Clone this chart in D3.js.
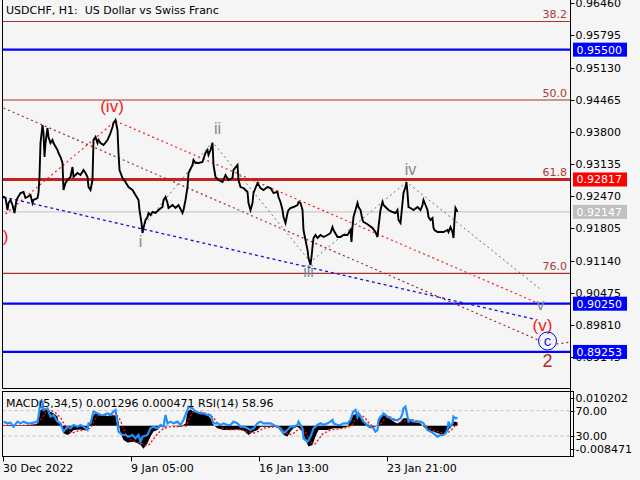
<!DOCTYPE html>
<html><head><meta charset="utf-8">
<script src="https://cdn.jsdelivr.net/npm/d3@7"></script>
<style>html,body{margin:0;padding:0;background:#f5f5f5;} svg{display:block;font-family:"DejaVu Sans",sans-serif;} text{white-space:pre;}</style>
</head><body><svg id="c" width="640" height="480"></svg>
<script>
// ---------- DATA ----------
const titleText = "USDCHF, H1:\u00a0\u00a0US Dollar vs Swiss Franc";
const indicatorText = "MACD(5,34,5) 0.001296 0.000471 RSI(14) 58.96";
const timeTickIdx = [0, 128, 256, 384];
const timeTickLabels = ["30 Dec 2022", "9 Jan 05:00", "16 Jan 13:00", "23 Jan 21:00"];
const priceTicks = ["0.96460","0.95795","0.95130","0.94465","0.93800","0.93135","0.92470","0.91805","0.91140","0.90475","0.89810","0.89145"];
const subTicksMacd = ["0.010202", "-0.008471"];
const subTicksRsi = [70, 30];

const barIdx = [0,1,3,5,6,8,10,12,14,15,18,21,23,25,28,30,31,35,36,37,38,40,41,42,43,45,46,48,50,51,55,56,58,60,61,63,65,68,70,71,75,78,81,83,85,86,88,90,91,93,95,96,98,101,105,108,110,111,113,115,116,117,120,123,126,130,133,136,137,139,140,141,143,145,146,148,150,153,156,160,161,163,165,166,170,173,176,180,181,183,185,186,190,191,193,196,200,203,205,206,208,210,211,213,216,220,223,226,230,231,235,236,238,241,245,246,248,250,251,255,258,261,265,268,271,275,276,278,280,281,283,285,286,288,291,295,296,298,300,301,303,305,306,308,309,310,311,313,315,316,318,321,325,328,330,331,335,338,341,345,348,349,350,351,353,355,356,358,360,361,363,366,370,373,375,376,378,380,381,383,386,390,393,395,396,398,400,401,403,404,405,406,408,411,415,418,420,421,423,425,426,428,430,431,432,435,438,441,445,446,448,450,451,452,453,455];
const closePx = [0.92434,0.92455,0.92434,0.92186,0.92331,0.92393,0.92290,0.92124,0.92393,0.92434,0.92538,0.92558,0.92434,0.92455,0.92496,0.92331,0.92393,0.92434,0.92538,0.92868,0.93571,0.93943,0.93777,0.93281,0.93571,0.93881,0.93695,0.93571,0.93633,0.93571,0.93426,0.93364,0.93281,0.93158,0.92600,0.92744,0.92806,0.92868,0.93075,0.92868,0.92951,0.92910,0.93013,0.92951,0.92868,0.92661,0.92600,0.92806,0.93633,0.93695,0.93571,0.93633,0.93571,0.93529,0.93633,0.93777,0.93901,0.93984,0.94046,0.93840,0.93364,0.93013,0.92848,0.92765,0.92661,0.92600,0.92496,0.92393,0.92186,0.91918,0.91711,0.91814,0.91980,0.92041,0.92124,0.92083,0.92145,0.92124,0.92186,0.92248,0.92393,0.92455,0.92331,0.92228,0.92290,0.92228,0.92290,0.92124,0.92186,0.92393,0.92661,0.92951,0.93116,0.93219,0.93158,0.93158,0.93178,0.93364,0.93426,0.93323,0.93426,0.93571,0.93116,0.92868,0.92806,0.92765,0.92910,0.92806,0.92848,0.93013,0.93116,0.92806,0.92661,0.92641,0.92558,0.92331,0.92186,0.92331,0.92538,0.92744,0.92641,0.92600,0.92661,0.92641,0.92538,0.92558,0.92455,0.92352,0.92186,0.92041,0.91918,0.92124,0.92186,0.92228,0.92248,0.92290,0.92352,0.92331,0.92186,0.91773,0.91566,0.91360,0.91194,0.91050,0.91215,0.91422,0.91607,0.91669,0.91607,0.91628,0.91669,0.91628,0.91669,0.91711,0.91835,0.91773,0.91628,0.91628,0.91669,0.91669,0.91773,0.91525,0.91835,0.92041,0.92186,0.92331,0.92248,0.92186,0.91980,0.91938,0.91918,0.91876,0.91814,0.91731,0.91628,0.91835,0.92186,0.92352,0.92290,0.92248,0.92186,0.92145,0.92124,0.92186,0.91980,0.91918,0.92331,0.92538,0.92661,0.92765,0.92538,0.92248,0.92228,0.92186,0.92248,0.92186,0.92290,0.92393,0.92290,0.92186,0.92041,0.91980,0.92021,0.91814,0.91773,0.91731,0.91731,0.91731,0.91773,0.91731,0.91835,0.91731,0.91607,0.91980,0.92228,0.92147];

const rsiIdx = [1,5,8,11,15,18,21,25,28,31,35,36,38,40,41,45,48,51,55,58,61,65,68,71,75,78,81,85,86,88,91,95,98,101,105,108,111,113,115,116,120,123,126,130,133,136,138,140,145,148,151,155,158,161,163,165,168,171,175,178,181,185,186,190,193,198,201,205,208,211,215,218,221,225,228,231,235,238,241,245,248,251,255,258,261,265,268,271,275,278,281,285,288,291,295,296,298,300,301,305,308,311,315,318,321,325,328,330,331,335,338,341,345,348,350,351,353,355,356,358,361,365,368,371,373,375,376,378,380,381,385,388,391,395,398,400,401,403,405,406,408,411,415,418,421,425,428,431,435,438,441,443,445,446,448,450,451,453,455];
const rsiVal = [52.7,50.0,51.1,44.8,52.7,50,52.7,50,50,51.1,52.7,60.6,84.3,84.3,71.1,73.7,60.6,63.2,52.7,50,36.9,44.8,42.1,47.4,44.8,47.4,44.8,39.5,50,50,68.5,65.8,63.2,63.2,65.8,63.2,68.5,71.1,50,36.9,31.6,31.6,28.9,31.6,26.3,31.6,21.0,28.9,31.6,42.1,44.8,42.1,47.4,44.8,63.2,50,52.7,50,52.7,47.4,55.3,71.1,76.4,73.7,68.5,65.8,65.8,63.2,63.2,50,50,47.4,50,47.4,47.4,52.7,50,44.8,44.8,42.1,39.5,42.1,50,52.7,50,50,50,47.4,44.8,42.1,34.2,39.5,44.8,44.8,47.4,52.7,47.4,42.1,26.3,21.0,28.9,42.1,47.4,50,47.4,50,52.7,55.3,50,47.4,47.4,50,50,55.3,65.8,68.5,71.1,60.6,65.8,60.6,52.7,47.4,44.8,42.1,36.9,39.5,55.3,60.6,63.2,65.8,60.6,57.9,55.3,55.3,57.9,65.8,73.7,76.4,60.6,52.7,55.3,52.7,52.7,52.7,50,39.5,36.9,34.2,28.9,31.6,31.6,34.2,39.5,52.7,44.8,50,60.6,57.9,58.96];

const macdIdx = [1,8,18,28,35,38,41,45,48,51,55,56,60,61,65,68,71,78,81,85,86,90,93,98,105,111,115,116,118,121,125,131,135,138,141,145,148,151,155,158,161,168,178,183,185,188,191,198,205,208,211,215,221,228,235,241,246,251,255,258,265,275,281,285,288,291,295,300,303,306,310,313,316,318,325,331,338,345,348,351,355,358,361,365,368,371,375,378,381,385,388,391,395,398,401,405,408,411,418,421,425,428,431,435,438,441,445,448,451,455];
const macdVal = [0.0002,0.0003,0.0002,0.0003,0.0009,0.0058,0.0064,0.0061,0.0052,0.0046,0.0034,0.0016,-0.0003,-0.0027,-0.0033,-0.0027,-0.0015,-0.0013,-0.0015,-0.0015,-0.0003,0.0034,0.0046,0.0040,0.0036,0.0040,0.0034,0.0016,-0.0027,-0.0052,-0.0061,-0.0058,-0.0064,-0.0070,-0.0084,-0.0064,-0.0039,-0.0021,-0.0015,-0.0003,-0.0003,0.0000,-0.0003,0.0009,0.0052,0.0061,0.0052,0.0046,0.0040,0.0028,0.0003,-0.0009,-0.0015,-0.0015,-0.0013,-0.0017,-0.0033,-0.0021,-0.0015,-0.0003,-0.0003,-0.0003,-0.0033,-0.0039,-0.0021,-0.0009,-0.0003,-0.0021,-0.0052,-0.0076,-0.0070,-0.0039,-0.0015,-0.0015,-0.0015,-0.0009,-0.0009,-0.0003,0.0022,0.0040,0.0046,0.0034,0.0016,-0.0003,-0.0009,-0.0003,0.0003,0.0028,0.0040,0.0034,0.0024,0.0016,0.0009,0.0016,0.0028,0.0028,0.0022,0.0016,0.0009,-0.0003,-0.0015,-0.0021,-0.0021,-0.0027,-0.0030,-0.0030,-0.0021,-0.0003,0.0016,0.0013];

const sigIdx = [0,18,33,38,43,48,53,58,62,66,70,76,83,88,92,96,103,110,115,118,122,126,133,138,143,147,151,156,161,168,178,184,187,191,198,206,211,215,220,228,238,246,251,256,261,273,281,286,290,295,300,304,308,312,316,320,328,338,346,350,354,358,362,366,370,376,380,384,388,393,398,403,408,413,418,423,428,434,440,445,449,453,455];
const sigVal = [0.0002,0.0002,0.0003,0.0020,0.0050,0.0058,0.0048,0.0030,0.0005,-0.0020,-0.0026,-0.0018,-0.0015,-0.0008,0.0020,0.0040,0.0040,0.0038,0.0037,0.0020,-0.0020,-0.0048,-0.0058,-0.0064,-0.0072,-0.0068,-0.0048,-0.0025,-0.0010,-0.0003,-0.0002,0.0000,0.0030,0.0052,0.0050,0.0043,0.0030,0.0010,-0.0008,-0.0014,-0.0014,-0.0022,-0.0026,-0.0020,-0.0008,-0.0003,-0.0015,-0.0032,-0.0030,-0.0015,-0.0008,-0.0030,-0.0060,-0.0068,-0.0050,-0.0030,-0.0015,-0.0010,-0.0005,0.0005,0.0030,0.0040,0.0032,0.0012,-0.0002,-0.0003,0.0015,0.0032,0.0033,0.0022,0.0014,0.0018,0.0024,0.0020,0.0013,0.0002,-0.0012,-0.0020,-0.0026,-0.0027,-0.0015,0.0003,0.00047];

const fibLabels = ["38.2", "50.0", "61.8", "76.0"];
const fibPrices = [0.96082, 0.94460, 0.92817, 0.90878];
const levelPrices = [0.95500, 0.90250, 0.89253];
const levelLabels = ["0.95500", "0.90250", "0.89253"];
const redLevelLabel = "0.92817";
const currentPrice = 0.92147;
const currentLabel = "0.92147";

// trendlines: [idx1, price1, idx2, price2]
const darkRedLines = [[1, 0.94294, 538, 0.89479], [554, 0.89417, 568, 0.89458]];
const redLines = [[3, 0.92104, 113, 0.94026], [113, 0.94026, 535, 0.90265]];
const blueLines = [[1, 0.92455, 531, 0.89934]];
const wavePathIdx = [139, 210, 308, 404, 539];
const wavePathPx = [0.91814, 0.93592, 0.91112, 0.92765, 0.90533];

const minorWaveText = ["i", "ii", "iii", "iv", "v"];
const minorWaveIdx = [138, 215, 306, 408, 538];
const minorWavePx = [0.91546, 0.93881, 0.90926, 0.93034, 0.90244];
const majorWaveText = ["(iii)", "(iv)", "(v)"];
const majorWaveIdx = [6, 109.5, 540];
const majorWavePx = [0.91649, 0.94346, 0.89810];
const circleWave = {text: "c", idx: 545, px: 0.89479};
const bigWave = {text: "2", idx: 545, px: 0.89086};

// ---------- DRAW ----------
const svg = d3.select("#c");
const L = 2.5, R = 570.5, mainBottom = 388.5, subTop = 391.5, subBottom = 456.5;
const x = d3.scaleLinear().domain([0, 568]).range([2.5, 570.5]);
const y = d3.scaleLinear().domain([0.96460, 0.89810]).range([3.2, 325]);
const yM = d3.scaleLinear().domain([0.010202, -0.008471]).range([398, 449]);
const yR = d3.scaleLinear().domain([70, 30]).range([410.7, 436]);

svg.append("rect").attr("width", 640).attr("height", 480).attr("fill", "#f5f5f5");
const defs = svg.append("defs");
defs.append("clipPath").attr("id", "mainClip").append("rect").attr("x", L).attr("y", 0).attr("width", R - L).attr("height", mainBottom);
defs.append("clipPath").attr("id", "subClip").append("rect").attr("x", L).attr("y", subTop).attr("width", R - L).attr("height", subBottom - subTop);

const main = svg.append("g").attr("clip-path", "url(#mainClip)");

// fib lines
fibPrices.forEach((p, i) => {
  const thick = fibLabels[i] === "61.8";
  main.append("line").attr("x1", L).attr("x2", R).attr("y1", y(p)).attr("y2", y(p))
    .attr("stroke", thick ? "#c8201e" : "#a83232").attr("stroke-width", thick ? 3 : 1.2);
  main.append("text").attr("x", 567).attr("y", y(p) - 3).attr("text-anchor", "end")
    .attr("font-size", 11).attr("fill", "#a83a3a").text(fibLabels[i]);
});
// current price line
main.append("line").attr("x1", L).attr("x2", R).attr("y1", y(currentPrice)).attr("y2", y(currentPrice))
  .attr("stroke", "#c0c0c0").attr("stroke-width", 1);
// blue levels
levelPrices.forEach(p => {
  main.append("line").attr("x1", L).attr("x2", R).attr("y1", y(p)).attr("y2", y(p))
    .attr("stroke", "#0000ff").attr("stroke-width", 2.2);
});

function drawSeg(seg, color, dash, w) {
  main.append("line").attr("x1", x(seg[0])).attr("y1", y(seg[1])).attr("x2", x(seg[2])).attr("y2", y(seg[3]))
    .attr("stroke", color).attr("stroke-width", w).attr("stroke-dasharray", dash);
}
darkRedLines.forEach(s => drawSeg(s, "#a02828", "2,3", 1.2));
redLines.forEach(s => drawSeg(s, "#ff1a1a", "2,3", 1.2));
blueLines.forEach(s => drawSeg(s, "#1010e0", "3,3", 1.3));
main.append("path").datum(wavePathIdx.map((d, i) => [d, wavePathPx[i]]))
  .attr("d", d3.line().x(d => x(d[0])).y(d => y(d[1])))
  .attr("fill", "none").attr("stroke", "#707070").attr("stroke-width", 1).attr("stroke-dasharray", "2,3");

// price line
main.append("path").datum(barIdx.map((d, i) => [d, closePx[i]]))
  .attr("d", d3.line().x(d => x(d[0])).y(d => y(d[1])))
  .attr("fill", "none").attr("stroke", "#000").attr("stroke-width", 1.9).attr("stroke-linejoin", "miter");

// wave labels
minorWaveText.forEach((t, i) => {
  main.append("text").attr("x", x(minorWaveIdx[i])).attr("y", y(minorWavePx[i])).attr("dy", "0.36em")
    .attr("text-anchor", "middle").attr("font-family", "Liberation Sans, Arial, sans-serif")
    .attr("font-size", 16).attr("fill", "#7f8a90").text(t);
});
majorWaveText.forEach((t, i) => {
  main.append("text").attr("x", x(majorWaveIdx[i])).attr("y", y(majorWavePx[i])).attr("dy", "0.36em")
    .attr("text-anchor", i === 0 ? "end" : "middle").attr("font-family", "Liberation Sans, Arial, sans-serif")
    .attr("font-size", 17).attr("fill", "#f02020").text(t);
});
main.append("circle").attr("cx", x(circleWave.idx)).attr("cy", y(circleWave.px)).attr("r", 9)
  .attr("fill", "none").attr("stroke", "#0000ff").attr("stroke-width", 1);
main.append("text").attr("x", x(circleWave.idx)).attr("y", y(circleWave.px)).attr("dy", "0.33em")
  .attr("text-anchor", "middle").attr("font-family", "Liberation Sans, Arial, sans-serif")
  .attr("font-size", 15).attr("fill", "#1030e0").text(circleWave.text);
main.append("text").attr("x", x(bigWave.idx)).attr("y", y(bigWave.px)).attr("dy", "0.36em")
  .attr("text-anchor", "middle").attr("font-family", "Liberation Sans, Arial, sans-serif")
  .attr("font-size", 18).attr("fill", "#b02828").text(bigWave.text);

// title
svg.append("text").attr("x", 6).attr("y", 14).attr("font-size", 11).attr("fill", "#000").text(titleText);

// sub panel
const sub = svg.append("g").attr("clip-path", "url(#subClip)");
subTicksRsi.forEach(r => {
  sub.append("line").attr("x1", L).attr("x2", R).attr("y1", yR(r)).attr("y2", yR(r))
    .attr("stroke", "#c0c0c0").attr("stroke-dasharray", "3,3");
});
const macdPts = macdIdx.map((d, i) => [d, macdVal[i]]);
sub.append("path").datum(macdPts)
  .attr("d", d3.area().x(d => x(d[0])).y0(yM(0)).y1(d => yM(d[1])))
  .attr("fill", "#000");
sub.append("path").datum(sigIdx.map((d, i) => [d, sigVal[i]]))
  .attr("d", d3.line().x(d => x(d[0])).y(d => yM(d[1])))
  .attr("fill", "none").attr("stroke", "#ff0000").attr("stroke-width", 1.3).attr("stroke-dasharray", "2,2");
sub.append("path").datum(rsiIdx.map((d, i) => [d, rsiVal[i]]))
  .attr("d", d3.line().x(d => x(d[0])).y(d => yR(d[1])))
  .attr("fill", "none").attr("stroke", "#1e90ff").attr("stroke-width", 2.2);
svg.append("text").attr("x", 6).attr("y", 407).attr("font-size", 11).attr("fill", "#000").text(indicatorText);

// frames
const frame = svg.append("g").attr("stroke", "#000").attr("stroke-width", 1).attr("fill", "none");
frame.append("line").attr("x1", L).attr("x2", L).attr("y1", 0).attr("y2", mainBottom);
frame.append("line").attr("x1", L).attr("x2", R).attr("y1", mainBottom).attr("y2", mainBottom);
frame.append("line").attr("x1", R).attr("x2", R).attr("y1", 0).attr("y2", subBottom);
frame.append("rect").attr("x", L).attr("y", subTop).attr("width", R - L + 3).attr("height", subBottom - subTop);

// right price axis
const axisG = svg.append("g").attr("font-size", 11);
priceTicks.forEach(t => {
  const yy = Math.round(y(+t)) + 0.5;
  axisG.append("line").attr("x1", R).attr("x2", R + 4).attr("y1", yy).attr("y2", yy).attr("stroke", "#000");
  axisG.append("text").attr("x", R + 5).attr("y", yy).attr("dy", "0.35em").attr("fill", "#000").text(t);
});
function priceBox(p, label, color) {
  const yy = y(p);
  axisG.append("rect").attr("x", R + 2.5).attr("y", yy - 7).attr("width", 54).attr("height", 14).attr("fill", color);
  axisG.append("text").attr("x", R + 6).attr("y", yy).attr("dy", "0.35em").attr("fill", "#fff").text(label);
}
levelPrices.forEach((p, i) => priceBox(p, levelLabels[i], "#0000ff"));
priceBox(fibPrices[2], redLevelLabel, "#ff0000");
priceBox(currentPrice, currentLabel, "#c0c0c0");

// sub axis
subTicksMacd.forEach(t => {
  const yy = Math.round(yM(+t)) + 0.5;
  axisG.append("line").attr("x1", R).attr("x2", R + 4).attr("y1", yy).attr("y2", yy).attr("stroke", "#000");
  axisG.append("text").attr("x", R + 5).attr("y", yy).attr("dy", "0.35em").attr("fill", "#000").text(t);
});
subTicksRsi.forEach(r => {
  const yy = Math.round(yR(r)) + 0.5;
  axisG.append("line").attr("x1", R).attr("x2", R + 4).attr("y1", yy).attr("y2", yy).attr("stroke", "#000");
  axisG.append("text").attr("x", R + 5).attr("y", yy).attr("dy", "0.35em").attr("fill", "#000").text(r.toFixed(2));
});

// time axis
timeTickIdx.forEach((t, i) => {
  const xx = Math.round(x(t)) + 0.5;
  axisG.append("line").attr("x1", xx).attr("x2", xx).attr("y1", subBottom).attr("y2", subBottom + 5).attr("stroke", "#000");
  axisG.append("text").attr("x", xx - 0.5).attr("y", 472).attr("fill", "#000").text(timeTickLabels[i]);
});
</script></body></html>
